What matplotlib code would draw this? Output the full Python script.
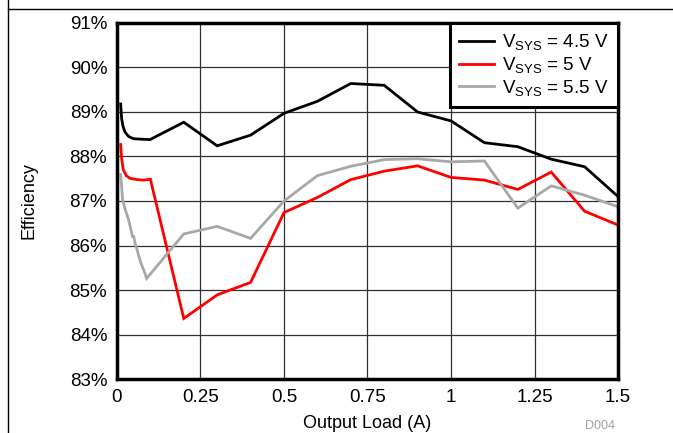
import matplotlib
matplotlib.use("Agg")
import matplotlib.pyplot as plt
from matplotlib.lines import Line2D

plt.rcParams['font.family'] = ['Liberation Sans', 'DejaVu Sans']

# Output load (A) vs efficiency (%)
load_45 = [0.011, 0.014, 0.018, 0.024, 0.035, 0.049, 0.07, 0.099, 0.2, 0.3, 0.4, 0.5,
           0.6, 0.7, 0.8, 0.9, 1.0, 1.1, 1.2, 1.3, 1.4, 1.5]
eff_45 = [89.18, 88.85, 88.68, 88.55, 88.45, 88.40, 88.39, 88.38, 88.77, 88.24, 88.48, 88.97,
          89.24, 89.64, 89.60, 89.00, 88.80, 88.31, 88.22, 87.94, 87.77, 87.10]

load_5 = [0.011, 0.014, 0.019, 0.028, 0.039, 0.06, 0.08, 0.1, 0.2, 0.3, 0.4, 0.5,
          0.6, 0.7, 0.8, 0.9, 1.0, 1.1, 1.2, 1.3, 1.4, 1.5]
eff_5 = [88.27, 87.95, 87.70, 87.57, 87.51, 87.48, 87.47, 87.49, 84.36, 84.89, 85.17, 86.74,
         87.08, 87.48, 87.67, 87.79, 87.53, 87.47, 87.26, 87.65, 86.77, 86.46]

load_55 = [0.011, 0.017, 0.025, 0.034, 0.042, 0.047, 0.050, 0.054, 0.059, 0.064, 0.069,
           0.074, 0.08, 0.089, 0.2, 0.3, 0.4, 0.5, 0.6, 0.7, 0.8, 0.9, 1.0, 1.1, 1.2,
           1.3, 1.4, 1.5]
eff_55 = [87.60, 87.02, 86.80, 86.60, 86.35, 86.18, 86.22, 86.05, 85.94, 85.80, 85.67,
          85.56, 85.45, 85.26, 86.26, 86.43, 86.16, 87.00, 87.57, 87.78, 87.93, 87.95,
          87.88, 87.90, 86.84, 87.34, 87.13, 86.87]

series = [
    (load_45, eff_45, 'black', r'V$\mathregular{_{SYS}}$ = 4.5 V'),
    (load_5, eff_5, 'red', r'V$\mathregular{_{SYS}}$ = 5 V'),
    (load_55, eff_55, '#a8a8a8', r'V$\mathregular{_{SYS}}$ = 5.5 V'),
]

xticks = [0, 0.25, 0.5, 0.75, 1, 1.25, 1.5]
xticklabels = ['0', '0.25', '0.5', '0.75', '1', '1.25', '1.5']
yticks = [83, 84, 85, 86, 87, 88, 89, 90, 91]

fig = plt.figure(figsize=(6.73, 4.33), dpi=100)
ax = fig.add_axes([0.1738, 0.1247, 0.9183 - 0.1738, 0.9469 - 0.1247])

for x, y, c, lab in series:
    ax.plot(x, y, color=c, lw=2, label=lab, solid_joinstyle='miter')

ax.set_xlim(0, 1.5)
ax.set_ylim(83, 91)
ax.set_xticks(xticks)
ax.set_xticklabels(xticklabels)
ax.set_yticks(yticks)
ax.set_yticklabels([f'{v}%' for v in yticks])
ax.tick_params(length=0, labelsize=13.5, pad=7)
ax.grid(True, color='#303030', lw=0.9)
ax.set_axisbelow(True)
for sp in ax.spines.values():
    sp.set_linewidth(2.5)

ax.set_xlabel('Output Load (A)', fontsize=13, labelpad=7)
ax.set_ylabel('Efficiency', fontsize=13, labelpad=23)

leg = ax.legend(loc='upper right', bbox_to_anchor=(1, 1), borderaxespad=0,
                fancybox=False, framealpha=1, edgecolor='black', fontsize=13.5,
                handlelength=1.85, labelspacing=0.15, borderpad=0.5, handletextpad=0.45)
leg.get_frame().set_linewidth(2.2)

# page frame lines
fig.add_artist(Line2D([8 / 673, 8 / 673], [0, 1], color='black', lw=1))
fig.add_artist(Line2D([8 / 673, 1], [1 - 9 / 433, 1 - 9 / 433], color='black', lw=1))
fig.text(600 / 673, 1 / 433, 'D004', color='#a0a0a0', fontsize=9, ha='center', va='bottom')

fig.savefig('out.png', dpi=100)
